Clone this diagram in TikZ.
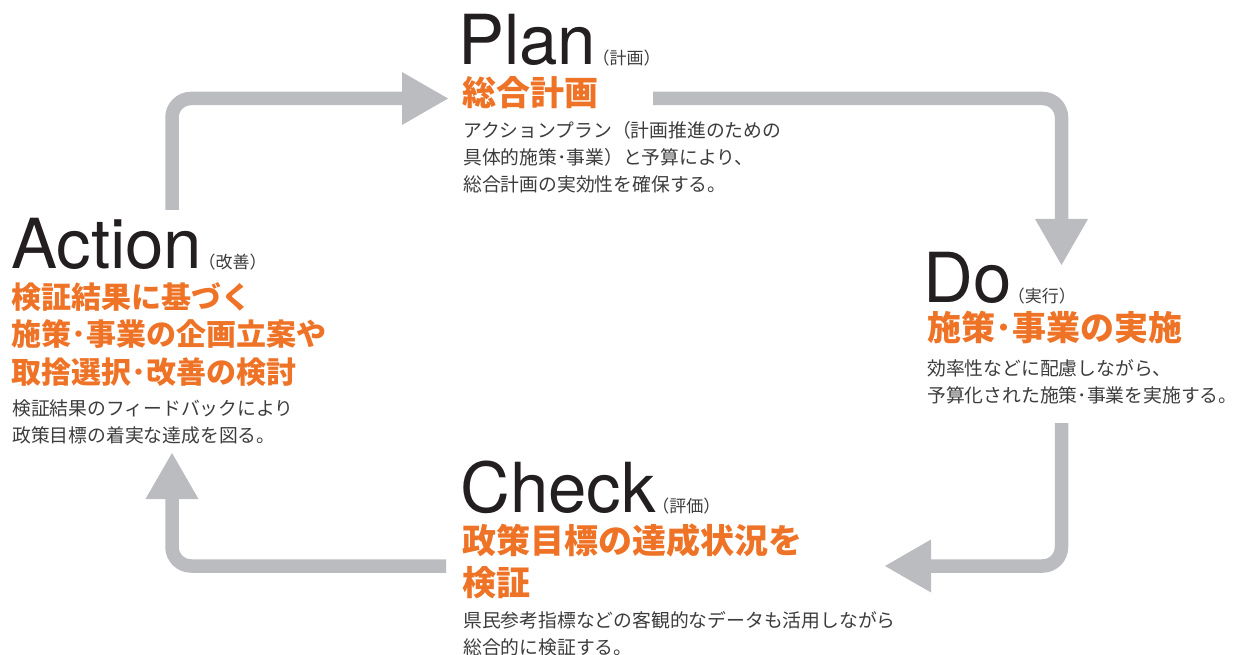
\documentclass[tikz,border=0pt]{standalone}
\usepackage{fontspec}
\setmainfont{TeX Gyre Heros}
\newfontfamily\jp{Noto Sans CJK JP}
\usetikzlibrary{arrows.meta}
\definecolor{pdcaorange}{RGB}{238,115,38}
\definecolor{pdcagray}{RGB}{187,188,192}
\definecolor{pdcatext}{RGB}{60,60,60}
\definecolor{pdcablack}{RGB}{35,31,32}

\begin{document}
\begin{tikzpicture}[x=1pt,y=-1pt,
    phase/.style={inner sep=0pt,anchor=base west,text=pdcablack,font=\fontsize{69}{69}\selectfont},
    paren/.style={inner sep=0pt,anchor=base west,text=pdcatext,font=\jp\fontsize{17}{17}\selectfont},
    goal/.style={inner sep=0pt,anchor=base west,align=left,text=pdcaorange,font=\jp\bfseries\fontsize{34}{42}\selectfont},
    note/.style={inner sep=0pt,anchor=base west,align=left,text=pdcatext,font=\jp\fontsize{18.8}{27}\selectfont},
    pdcaarrow/.style={pdcagray,line width=13.5pt,rounded corners=19pt,
      -{Triangle[width=53pt,length=46pt,line width=0pt]}}]
  \useasboundingbox (0,0) rectangle (1234,655);

  % Plan  (multi-line nodes sit on the baseline of their last line)
  \node[phase] (plan) at (458,65) {Plan};
  \node[paren] (planjp) at ([xshift=-4pt]plan.base east) {（計画）};
  \node[goal] (plangoal) at (462,106) {総合計画};
  \node[note] (plannote) at (463,192) {アクションプラン（計画推進のための\\具体的施策･事業）と予算により、\\総合計画の実効性を確保する。};

  % Do
  \node[phase] (do) at (923,302) {Do};
  \node[paren] (dojp) at ([xshift=-4pt]do.base east) {（実行）};
  \node[goal] (dogoal) at (927,340) {施策･事業の実施};
  \node[note] (donote) at (927,402) {効率性などに配慮しながら、\\予算化された施策･事業を実施する。};

  % Check
  \node[phase] (check) at (460,512) {Check};
  \node[paren] (checkjp) at ([xshift=-4pt]check.base east) {（評価）};
  \node[goal] (checkgoal) at (462,595) {政策目標の達成状況を\\検証};
  \node[note] (checknote) at (463,654) {県民参考指標などの客観的なデータも活用しながら\\総合的に検証する。};

  % Action
  \node[phase] (action) at (11,268) {Action};
  \node[paren] (actionjp) at ([xshift=-4pt]action.base east) {（改善）};
  \node[goal,font=\jp\bfseries\fontsize{30}{37.5}\selectfont] (actiongoal) at (11,383)
    {検証結果に基づく\\施策･事業の企画立案や\\取捨選択･改善の検討};
  \node[note] (actionnote) at (12,442) {検証結果のフィードバックにより\\政策目標の着実な達成を図る。};

  % cycle arrows
  \coordinate (actout) at (172,210);
  \coordinate (planin) at (448,98.5);
  \coordinate (planout) at (653,98.5);
  \coordinate (doin) at (1061.5,265);
  \coordinate (doout) at (1061.5,423);
  \coordinate (checkin) at (885,566);
  \coordinate (checkout) at (446,566);
  \coordinate (actin) at (172,453);
  \draw[pdcaarrow] (actout) |- (planin);
  \draw[pdcaarrow] (planout) -| (doin);
  \draw[pdcaarrow] (doout) |- (checkin);
  \draw[pdcaarrow] (checkout) -| (actin);
\end{tikzpicture}
\end{document}
